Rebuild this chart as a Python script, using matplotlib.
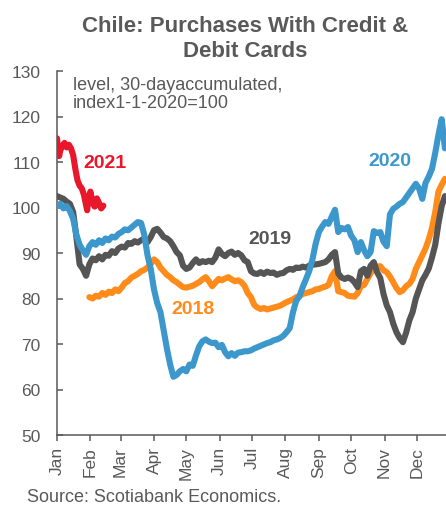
import numpy as np
import matplotlib
matplotlib.use("Agg")
import matplotlib.pyplot as plt

plt.rcParams['font.family'] = ['Liberation Sans', 'DejaVu Sans']

# Month labels on a day-of-year axis
month_labels = ["Jan", "Feb", "Mar", "Apr", "May", "Jun",
                "Jul", "Aug", "Sep", "Oct", "Nov", "Dec"]
month_starts = [0, 31, 59, 90, 120, 151, 181, 212, 243, 273, 304, 334]

# 2020 series (sampled every 3 days from Jan 1)
days_2020 = np.arange(0, 361, 3)
vals_2020 = [
    100.3, 100.8, 99.8, 100.3, 99.2, 97.5, 94.0, 91.8, 90.6, 89.6,
    91.5, 92.4, 91.8, 92.8, 92.2, 93.2, 92.8, 93.6, 93.4, 94.2,
    94.6, 95.2, 95.0, 95.6, 96.2, 96.8, 96.6, 94.0, 89.5, 86.5,
    82.0, 79.0, 77.0, 73.0, 69.0, 65.5, 62.8, 63.2, 64.0, 64.5,
    64.0, 65.5, 65.2, 67.5, 69.5, 70.6, 71.0, 70.5, 70.2, 70.3,
    69.3, 69.8, 68.2, 67.3, 68.0, 67.4, 68.1, 68.2, 68.4, 68.4,
    68.6, 69.0, 69.3, 69.6, 69.9, 70.2, 70.4, 70.8, 71.0, 71.3,
    71.8, 72.6, 73.5, 77.0, 79.5, 80.5, 82.5, 84.2, 86.0, 88.5,
    92.0, 94.6, 95.8, 96.8, 96.4, 98.0, 99.5, 94.6, 95.5, 95.2,
    95.7, 93.8, 92.8, 90.2, 92.4, 90.6, 89.3, 90.2, 94.8, 94.4,
    94.6, 92.5, 91.5, 98.5, 99.7, 100.2, 100.8, 101.2, 102.2, 103.2,
    104.2, 105.2, 104.2, 101.9, 105.4, 106.8, 108.5, 112.0, 116.0, 119.4,
    113.0,
]

# 2019 series
days_2019 = np.arange(0, 361, 3)
vals_2019 = [
    102.5, 102.2, 101.9, 101.3, 100.8, 99.0, 93.5, 87.5, 86.5, 85.0,
    87.5, 88.8, 88.4, 89.3, 88.6, 89.6, 89.4, 90.4, 90.0, 91.0,
    91.4, 91.2, 92.2, 92.0, 92.6, 92.3, 92.8, 93.2, 92.4, 93.5,
    95.0, 95.3, 94.5, 93.5, 93.2, 92.6, 91.5, 90.2, 89.5, 87.2,
    86.5, 86.8, 87.8, 88.6, 87.8, 88.2, 88.0, 88.3, 88.0, 89.0,
    90.8, 89.8, 89.3, 90.0, 90.3, 89.6, 90.0, 89.5, 88.4, 88.0,
    86.0, 85.5, 85.4, 85.8, 85.4, 85.9, 85.6, 85.7, 85.2, 85.5,
    85.6, 86.2, 86.5, 86.3, 86.8, 86.7, 87.0, 86.8, 87.2, 87.4,
    87.5, 87.6, 87.8, 88.0, 88.6, 89.6, 90.2, 85.5, 84.6, 84.3,
    84.6, 84.3, 83.6, 82.5, 86.0, 86.5, 85.0, 87.2, 88.0, 85.8,
    84.5, 81.0, 78.5, 77.0, 74.5, 72.6, 71.3, 70.4, 72.5, 75.2,
    77.0, 80.0, 82.0, 84.0, 85.2, 86.6, 89.0, 91.8, 96.5, 100.3,
    102.5,
]

# 2018 series (from early February)
days_2018 = np.arange(30, 361, 3)
vals_2018 = [
    80.3, 80.0, 80.6, 80.4, 81.2, 80.8, 81.5, 81.2, 82.0, 81.6,
    82.4, 83.4, 83.8, 84.6, 85.0, 85.4, 86.0, 86.3, 86.8, 87.6,
    88.6, 88.0, 86.8, 86.0, 85.2, 84.7, 84.0, 83.6, 83.0, 82.5,
    82.4, 82.6, 82.8, 83.2, 83.6, 84.2, 84.7, 83.8, 82.7, 83.5,
    84.3, 84.0, 84.4, 84.7, 84.2, 83.8, 84.0, 83.6, 82.8, 81.2,
    80.3, 78.6, 78.0, 77.7, 77.9, 77.6, 77.8, 78.0, 78.2, 78.4,
    78.8, 79.2, 79.5, 79.8, 80.3, 80.5, 81.0, 81.2, 81.4, 81.6,
    82.0, 82.1, 82.4, 82.6, 83.0, 84.9, 86.0, 81.6, 81.4, 81.2,
    80.6, 80.5, 80.4, 81.2, 82.7, 83.0, 84.3, 85.5, 87.1, 87.0,
    87.1, 86.2, 85.8, 84.8, 83.6, 82.3, 81.4, 81.8, 82.7, 83.2,
    84.3, 86.5, 88.0, 89.5, 91.0, 93.0, 95.5, 99.0, 103.5, 105.0,
    106.3,
]

# 2021 series (January to mid-February)
days_2021 = [0, 1, 2, 3, 5, 7, 9, 11, 13, 15, 17, 19, 21, 23, 25,
             27, 28, 29, 31, 33, 35, 37, 39, 41, 43]
vals_2021 = [115.2, 112.5, 111.3, 112.5, 113.6, 114.2, 113.2, 113.8, 113.0,
             111.5, 108.5, 106.0, 104.8, 104.2, 102.8, 100.5, 99.4, 101.5,
             103.5, 101.0, 100.2, 102.0, 101.0, 99.8, 100.4]

GRAY = "#595959"
C2018 = "#FF8C1A"
C2019 = "#555555"
C2020 = "#3C98CC"
C2021 = "#E8172B"

fig = plt.figure(figsize=(4.46, 5.06), dpi=100)
ax = fig.add_axes([57 / 446, 70 / 506, 389 / 446, 364 / 506])

lw = 4.4
line_kw = dict(lw=lw, solid_capstyle="round", solid_joinstyle="round")
ax.plot(days_2018, vals_2018, color=C2018, zorder=2, **line_kw)
ax.plot(days_2019, vals_2019, color=C2019, zorder=3, **line_kw)
ax.plot(days_2020, vals_2020, color=C2020, zorder=4, **line_kw)
ax.plot(days_2021, vals_2021, color=C2021, zorder=5, **line_kw)

ax.set_xlim(0, 361)
ax.set_ylim(50, 130)
ax.set_yticks(np.arange(50, 131, 10))
ax.set_xticks(month_starts)
ax.set_xticklabels(month_labels, rotation=90)

for s in ["top", "right"]:
    ax.spines[s].set_visible(False)
for s in ["left", "bottom"]:
    ax.spines[s].set_color(GRAY)
    ax.spines[s].set_linewidth(1.1)

ax.tick_params(axis="y", direction="in", length=4.5, width=1.1, color=GRAY,
               labelcolor=GRAY, labelsize=12.5, pad=12)
ax.tick_params(axis="x", direction="out", length=4, width=1.1, color=GRAY,
               labelcolor=GRAY, labelsize=12.5, pad=4)

# Series labels
lab_kw = dict(fontsize=14, fontweight="bold", ha="center", va="center")
ax.text(44.5, 109.8, "2021", color=C2021, **lab_kw)
ax.text(309, 110.4, "2020", color=C2020, **lab_kw)
ax.text(197.5, 93.1, "2019", color=C2019, **lab_kw)
ax.text(126, 77.7, "2018", color=C2018, **lab_kw)

# Units note
ax.text(16 / 389, 1 - 5 / 364,
        "level, 30-dayaccumulated,\nindex1-1-2020=100",
        transform=ax.transAxes, fontsize=13, color=GRAY, ha="left", va="top",
        linespacing=1.1)

fig.text(245 / 446, 1 - 16 / 506, "Chile: Purchases With Credit &\nDebit Cards",
         fontsize=16, fontweight="bold", color=GRAY, ha="center", va="top",
         linespacing=1.25)

fig.text(27 / 446, 4 / 506, "Source: Scotiabank Economics.", fontsize=13,
         color=GRAY, ha="left", va="baseline")

fig.savefig("out.png", dpi=100)
